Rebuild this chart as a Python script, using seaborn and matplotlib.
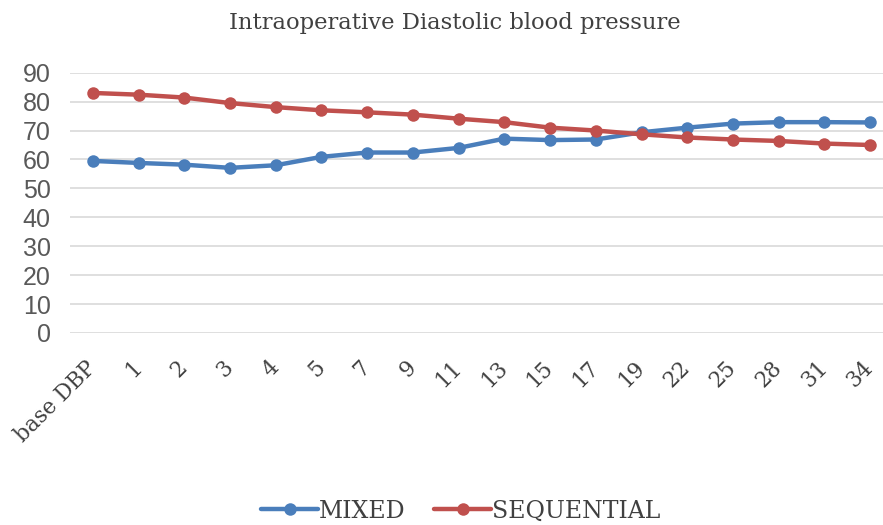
import pandas as pd
import seaborn as sns
import matplotlib.pyplot as plt
from matplotlib.transforms import ScaledTranslation

time_points = ["base DBP", "1", "2", "3", "4", "5", "7", "9", "11", "13",
               "15", "17", "19", "22", "25", "28", "31", "34"]
mixed = [59.5, 58.8, 58.2, 57.1, 58.0, 60.9, 62.4, 62.4, 64.0, 67.2,
         66.7, 66.9, 69.4, 71.0, 72.4, 72.9, 72.9, 72.8]
sequential = [83.0, 82.4, 81.4, 79.5, 78.1, 77.0, 76.3, 75.5, 74.1, 72.9,
              71.0, 70.0, 68.7, 67.6, 66.9, 66.4, 65.5, 65.0]

df = pd.DataFrame({
    "time": time_points * 2,
    "dbp": mixed + sequential,
    "group": ["MIXED"] * len(time_points) + ["SEQUENTIAL"] * len(time_points),
})

sns.set_theme(style="white")
plt.rcParams["font.family"] = ["DejaVu Serif"]

fig = plt.figure(figsize=(8.83, 5.25), dpi=100)
ax = fig.add_axes([70 / 883, 1 - 333 / 525, 823 / 883, (333 - 72.7) / 525])

sns.lineplot(data=df, x="time", y="dbp", hue="group", sort=False,
             palette={"MIXED": "#4a7ebb", "SEQUENTIAL": "#c0504d"},
             marker="o", markersize=9, markeredgewidth=0, linewidth=3.2,
             ax=ax)

ax.set_ylim(0, 90)
ax.set_xlim(-0.5, 17.5)
ax.set_yticks(range(0, 91, 10))
ax.yaxis.grid(True, color="#d9d9d9", linewidth=1.2)
ax.set_axisbelow(True)
for s in ax.spines.values():
    s.set_visible(False)
ax.tick_params(axis="both", length=0)
ax.set_xlabel("")
ax.set_ylabel("")

for lbl in ax.get_yticklabels():
    lbl.set_family("Liberation Sans")
    lbl.set_fontsize(18)
    lbl.set_color("#595959")
ax.tick_params(axis="y", pad=14)

plt.setp(ax.get_xticklabels(), rotation=45, ha="right", va="top",
         rotation_mode="anchor", fontsize=15.5, color="#404040")
ax.tick_params(axis="x", pad=17)
shift = ScaledTranslation(-0.08, 0, fig.dpi_scale_trans)
for lbl in ax.get_xticklabels():
    lbl.set_transform(lbl.get_transform() + shift)

fig.text(0.515, 0.957, "Intraoperative Diastolic blood pressure",
         ha="center", va="center", fontsize=16.3, color="#404040")

handles, labels = ax.get_legend_handles_labels()
ax.legend(handles, labels, loc="center", bbox_to_anchor=(461 / 883, 1 - 511 / 525),
          bbox_transform=fig.transFigure, ncol=2, frameon=False,
          fontsize=17, handlelength=2.4, columnspacing=1.2, handletextpad=0.05,
          labelcolor="#404040")

fig.savefig("out.png", dpi=100)
